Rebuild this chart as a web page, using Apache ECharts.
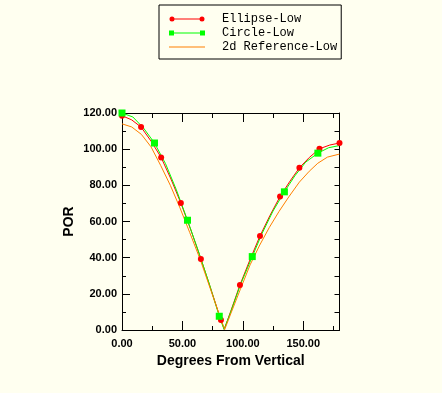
<!DOCTYPE html>
<html><head><meta charset="utf-8">
<script src="https://cdn.jsdelivr.net/npm/echarts@6/dist/echarts.min.js"></script>
<style>html,body{margin:0;padding:0;background:#fffff0}#c{width:442px;height:393px}</style>
</head><body><div id="c"></div>
<script>
// ---- data ----
const seriesNames = ['Ellipse-Low', 'Circle-Low', '2d Reference-Low'];

const ellipseDeg = [0, 8, 15.8, 24, 32.4, 40.5, 48.7, 57, 65.3, 73.5, 81.9, 84.6, 90, 97.6, 106, 114.2, 122.5, 130.8, 139, 146.8, 155, 163.4, 172, 180];
const ellipsePor = [118.5, 116.2, 112.2, 104.5, 95.4, 83.5, 70.2, 55.3, 39.3, 22.7, 5.5, 0.4, 10.4, 24.9, 39, 52, 63.4, 73.8, 82.3, 89.7, 95.4, 100.2, 102.3, 103.4];
const ellipseMarkIdx = [0, 2, 4, 6, 8, 10, 13, 15, 17, 19, 21, 23];

const circleDeg = [0, 9, 18, 26.9, 36, 45, 54.2, 63, 72, 80.5, 84.5, 90, 98, 107.8, 116, 125, 134.4, 143, 152, 162.1, 171, 180];
const circlePor = [120, 117.8, 111.5, 103.4, 92, 77.5, 60.7, 44, 26, 7.6, 0.3, 10, 25, 40.6, 53.5, 65.8, 76.4, 85.2, 92.8, 97.8, 100.8, 102];
const circleMarkIdx = [0, 3, 6, 9, 13, 16, 19];

const refDeg = [0, 8, 16, 24, 32, 40, 48, 56, 65, 73, 81, 85, 90, 98, 106, 114, 122, 130, 138, 146.8, 155, 162, 170, 180];
const refPor = [114, 112.3, 108.2, 101.3, 91, 80, 67.5, 54, 38.5, 23, 7.5, 0.3, 9, 22.6, 36, 47, 56.8, 65.6, 73.6, 81.8, 87.8, 92.2, 95.6, 97.3];

const xMin = 0, xMax = 180, xMajor = 50, xMinor = 25;
const yMin = 0, yMax = 120, yMajor = 20, yMinor = 10;

// ---- build ----
function build(deg, por, marks, sym) {
  return deg.map((d, i) => ({ value: [d, por[i]], symbol: marks.indexOf(i) >= 0 ? sym : 'none' }));
}
const fmt = v => v.toFixed(2);
const tickFont = { fontFamily: 'Liberation Sans', fontWeight: 'bold', fontSize: 11, color: '#000' };
const blk = { color: '#000', width: 1 };

const iconEllipse = 'path://M0.5,3A2.5,2.5,0,1,1,5.5,3A2.5,2.5,0,1,1,0.5,3ZM3,2.5L33,2.5L33,3.5L3,3.5ZM30.5,3A2.5,2.5,0,1,1,35.5,3A2.5,2.5,0,1,1,30.5,3ZM0,0M36,6';
const iconCircle = 'path://M0,0.5L5,0.5L5,5.5L0,5.5ZM5,2.5L31,2.5L31,3.5L5,3.5ZM31,0.5L36,0.5L36,5.5L31,5.5ZM0,0M0,6';
const iconRef = 'path://M0,0M0,6M0,2.5L36,2.5L36,3.5L0,3.5Z';

const gridRect = { left: 122, right: 102.5, top: 113, bottom: 63, containLabel: false };

const option = {
  animation: false,
  backgroundColor: '#fffff0',
  legend: {
    orient: 'vertical', left: 159, top: 5,
    padding: [7, 4, 5, 10],
    borderColor: '#000', borderWidth: 1,
    itemWidth: 36, itemHeight: 6, itemGap: 0,
    selectedMode: false,
    textStyle: { fontFamily: 'Liberation Mono', fontSize: 12, color: '#000', lineHeight: 14, padding: [0, 0, 0, 12] },
    data: [
      { name: seriesNames[0], icon: iconEllipse },
      { name: seriesNames[1], icon: iconCircle },
      { name: seriesNames[2], icon: iconRef }
    ]
  },
  grid: [gridRect, gridRect],
  xAxis: [
    { gridIndex: 0, type: 'value', position: 'bottom', min: xMin, max: xMax, interval: xMajor,
      axisLine: { show: true, onZero: false, lineStyle: blk },
      axisTick: { show: true, inside: true, length: 9, lineStyle: blk },
      axisLabel: Object.assign({ formatter: fmt, showMaxLabel: false, margin: 8 }, tickFont),
      splitLine: { show: false },
      name: 'Degrees From Vertical', nameLocation: 'middle', nameGap: 21,
      nameTextStyle: { fontFamily: 'Liberation Sans', fontWeight: 'bold', fontSize: 14, color: '#000' } },
    { gridIndex: 0, type: 'value', position: 'top', min: xMin, max: xMax, interval: xMajor,
      axisLine: { show: true, onZero: false, lineStyle: blk },
      axisTick: { show: true, inside: true, length: 9, lineStyle: blk },
      axisLabel: { show: false }, splitLine: { show: false } },
    { gridIndex: 1, type: 'value', position: 'bottom', min: xMin, max: xMax, interval: xMinor,
      axisLine: { show: false, onZero: false },
      axisTick: { show: true, inside: true, length: 4, lineStyle: blk },
      axisLabel: { show: false }, splitLine: { show: false } },
    { gridIndex: 1, type: 'value', position: 'top', min: xMin, max: xMax, interval: xMinor,
      axisLine: { show: false, onZero: false },
      axisTick: { show: true, inside: true, length: 5, lineStyle: blk },
      axisLabel: { show: false }, splitLine: { show: false } }
  ],
  yAxis: [
    { gridIndex: 0, type: 'value', position: 'left', min: yMin, max: yMax, interval: yMajor,
      axisLine: { show: true, onZero: false, lineStyle: blk },
      axisTick: { show: true, inside: true, length: 8, lineStyle: blk },
      axisLabel: Object.assign({ formatter: fmt, margin: 5 }, tickFont),
      splitLine: { show: false },
      name: 'POR', nameLocation: 'middle', nameGap: 46,
      nameTextStyle: { fontFamily: 'Liberation Sans', fontWeight: 'bold', fontSize: 14, color: '#000' } },
    { gridIndex: 0, type: 'value', position: 'right', min: yMin, max: yMax, interval: yMinor,
      axisLine: { show: true, onZero: false, lineStyle: blk },
      axisTick: { show: true, inside: true, length: 5, lineStyle: blk },
      axisLabel: { show: false }, splitLine: { show: false } },
    { gridIndex: 1, type: 'value', position: 'left', min: yMin, max: yMax, interval: yMinor,
      axisLine: { show: false, onZero: false },
      axisTick: { show: true, inside: true, length: 4, lineStyle: blk },
      axisLabel: { show: false }, splitLine: { show: false } }
  ],
  series: [
    { name: seriesNames[0], type: 'line', xAxisIndex: 0, yAxisIndex: 0, clip: false,
      symbol: 'none', symbolSize: 6, showAllSymbol: true,
      color: '#ff0000', lineStyle: { width: 1, color: '#ff0000' }, itemStyle: { color: '#ff0000' },
      data: build(ellipseDeg, ellipsePor, ellipseMarkIdx, 'circle') },
    { name: seriesNames[1], type: 'line', xAxisIndex: 0, yAxisIndex: 0, clip: false,
      symbol: 'none', symbolSize: 7, showAllSymbol: true,
      color: '#00ff00', lineStyle: { width: 1, color: '#00ff00' }, itemStyle: { color: '#00ff00' },
      data: build(circleDeg, circlePor, circleMarkIdx, 'rect') },
    { name: seriesNames[2], type: 'line', xAxisIndex: 0, yAxisIndex: 0, clip: false,
      symbol: 'none', showSymbol: false,
      color: '#ff8000', lineStyle: { width: 1, color: '#ff8000' }, itemStyle: { color: '#ff8000' },
      data: refDeg.map((d, i) => [d, refPor[i]]) }
  ]
};
const chart = echarts.init(document.getElementById('c'), null, { renderer: 'canvas' });
chart.setOption(option);
</script></body></html>
